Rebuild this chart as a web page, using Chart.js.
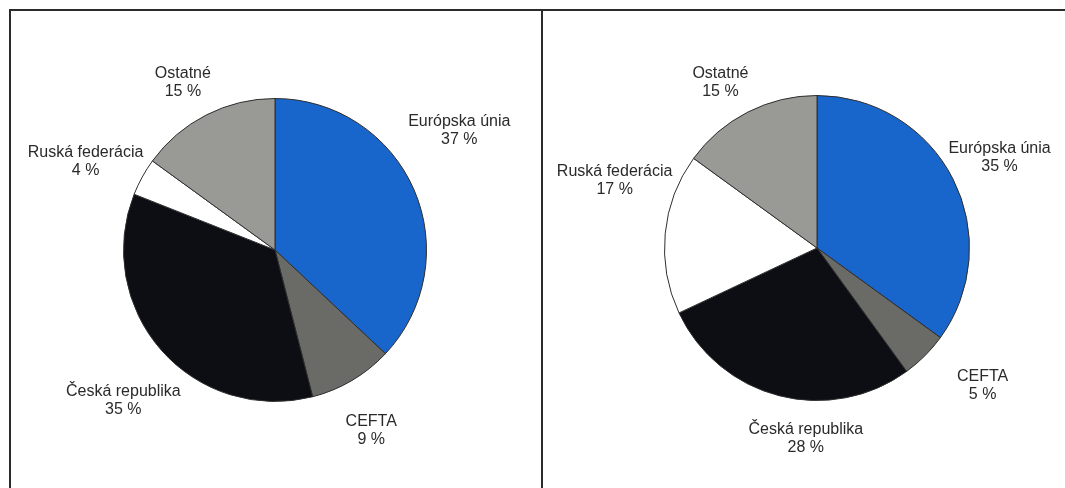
<!DOCTYPE html>
<html>
<head>
<meta charset="utf-8">
<script src="https://cdn.jsdelivr.net/npm/chart.js@4.4.1/dist/chart.umd.min.js"></script>
<style>
    body { margin: 0; background: #fff; width: 1065px; height: 488px; overflow: hidden; position: relative; }
    #frame { position: absolute; left: 9px; top: 9px; width: 1060px; height: 485px; border-left: 2px solid #2b2b2b; border-top: 2px solid #2b2b2b; }
    #divider { position: absolute; left: 541px; top: 9px; width: 2px; height: 485px; background: #2b2b2b; }
    canvas { position: absolute; }
</style>
</head>
<body>
<div id="frame"></div>
<div id="divider"></div>
<canvas id="leftChart" width="530" height="477" style="left:11px; top:11px;"></canvas>
<canvas id="rightChart" width="522" height="477" style="left:543px; top:11px;"></canvas>
<script>
document.addEventListener("DOMContentLoaded", function()
{
    // kategórie a podiely (v %)
    const categories = ["Európska únia", "CEFTA", "Česká republika", "Ruská federácia", "Ostatné"];
    const leftValues = [37, 9, 35, 4, 15];
    const rightValues = [35, 5, 28, 17, 15];

    const sliceColors = ["#1865cc", "#6a6a66", "#0d0d14", "#ffffff", "#999995"];

    // posun popisov oproti automatickej polohe (px)
    const leftNudge = [[-9, -49], [2, 29], [11, 34], [1, -3], [-7, -10]];
    const rightNudge = [[-6, -10], [34, 12], [43, 19], [15, -51], [-11, -7]];

    const labelPlugin =
    {
        id: "outsideLabels",
        afterDraw: function(chart)
        {
            const ctx = chart.ctx;
            const meta = chart.getDatasetMeta(0);
            const values = chart.data.datasets[0].data;
            const nudge = chart.options.plugins.outsideLabels.nudge;
            ctx.save();
            ctx.font = "16px 'Liberation Sans', Arial, sans-serif";
            ctx.fillStyle = "#2a2a2a";
            ctx.textAlign = "center";
            ctx.textBaseline = "middle";
            meta.data.forEach(function(arc, i)
            {
                const mid = (arc.startAngle + arc.endAngle) / 2;
                const d = arc.outerRadius + 8;
                const line1 = chart.data.labels[i];
                const line2 = values[i] + " %";
                const w = Math.max(ctx.measureText(line1).width, ctx.measureText(line2).width);
                const h = 34;
                const bx = arc.x + d * Math.cos(mid) + Math.cos(mid) * w / 2 + nudge[i][0];
                const by = arc.y + d * Math.sin(mid) + Math.sin(mid) * h / 2 + nudge[i][1];
                ctx.fillText(line1, bx, by - 9);
                ctx.fillText(line2, bx, by + 9);
            });
            ctx.restore();
        }
    };

    function makePie(canvasId, values, padding, nudge)
    {
        const ctx = document.getElementById(canvasId).getContext("2d");
        new Chart(ctx,
        {
            type: "pie",
            data:
            {
                labels: categories,
                datasets: [
                    {
                        data: values,
                        backgroundColor: sliceColors,
                        borderColor: "#2e2e2e",
                        borderWidth: 1
                    }
                ]
            },
            options:
            {
                responsive: false,
                maintainAspectRatio: false,
                animation: false,
                layout: { padding: padding },
                plugins:
                {
                    legend: { display: false },
                    tooltip: { enabled: false },
                    outsideLabels: { nudge: nudge }
                }
            },
            plugins: [labelPlugin]
        });
    }

    makePie("leftChart", leftValues, { left: 112, right: 114, top: 87, bottom: 86 }, leftNudge);
    makePie("rightChart", rightValues, { left: 121, right: 95, top: 84, bottom: 87 }, rightNudge);
});
</script>
</body>
</html>
